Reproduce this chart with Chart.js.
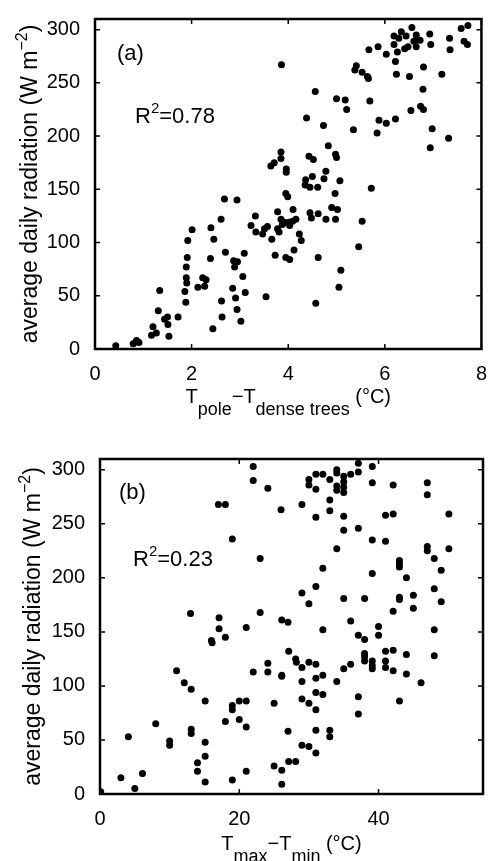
<!DOCTYPE html>
<html>
<head>
<meta charset="utf-8">
<script src="https://cdn.jsdelivr.net/npm/chart.js@4/dist/chart.umd.min.js"></script>
<style>
  html, body { margin: 0; padding: 0; background: #fff; }
  body { width: 492px; height: 861px; position: relative; overflow: hidden; }
  canvas { position: absolute; left: 0; }
</style>
</head>
<body>
<canvas id="chartA" width="492" height="430" style="top:0px"></canvas>
<canvas id="chartB" width="492" height="431" style="top:430px"></canvas>
<script>
// (a) T_pole - T_dense trees (°C) vs radiation
var gapA = [
  0.43, 0.79, 0.86, 0.91, 1.17, 1.20, 1.27, 1.31, 1.34, 1.44,
  1.50, 1.51, 1.53, 1.72, 1.86, 1.88, 1.89, 1.90, 1.89, 1.91,
  1.92, 2.01, 2.13, 2.23, 2.27, 2.30, 2.39, 2.40, 2.44, 2.46,
  2.61, 2.62, 2.63, 2.68, 2.70, 2.85, 2.87, 2.89, 2.91, 2.94,
  2.94, 2.95, 3.02, 3.06, 3.09, 3.11, 3.23, 3.32, 3.33, 3.47,
  3.51, 3.54, 3.57, 3.64, 3.66, 3.71, 3.73, 3.78, 3.78, 3.81,
  3.85, 3.85, 3.85, 3.86, 3.88, 3.92, 3.95, 3.95, 3.96, 3.96,
  3.99, 4.02, 4.03, 4.03, 4.09, 4.10, 4.12, 4.16, 4.23, 4.27,
  4.35, 4.36, 4.38, 4.43, 4.45, 4.45, 4.48, 4.50, 4.52, 4.56,
  4.57, 4.61, 4.62, 4.62, 4.73, 4.74, 4.78, 4.78, 4.83, 4.90,
  4.97, 4.98, 4.98, 5.00, 5.00, 5.02, 5.05, 5.07, 5.09, 5.18,
  5.21, 5.35, 5.38, 5.41, 5.46, 5.53, 5.53, 5.64, 5.66, 5.67,
  5.69, 5.72, 5.84, 5.86, 5.88, 6.03, 6.03, 6.19, 6.19, 6.22,
  6.22, 6.24, 6.26, 6.29, 6.34, 6.41, 6.44, 6.48, 6.51, 6.54,
  6.56, 6.60, 6.65, 6.65, 6.65, 6.73, 6.74, 6.79, 6.80, 6.80,
  6.93, 6.94, 6.95, 6.98, 7.18, 7.32, 7.34, 7.35, 7.58, 7.64,
  7.71, 7.72
]
var radA = [
  3, 5, 8, 6, 13, 21, 15, 36, 55, 28,
  30, 23, 12, 30, 54, 44, 67, 62, 77, 86,
  102, 112, 58, 67, 59, 65, 85, 114, 19, 103,
  122, 45, 30, 141, 91, 57, 83, 77, 48, 140,
  37, 82, 26, 68, 90, 53, 116, 125, 110, 108,
  113, 49, 115, 172, 103, 175, 88, 129, 113, 110,
  122, 185, 179, 267, 117, 119, 146, 86, 169, 166,
  143, 119, 116, 84, 120, 131, 93, 122, 108, 102,
  154, 159, 217, 181, 152, 128, 123, 162, 178, 242,
  43, 152, 127, 86, 210, 160, 167, 122, 191, 133,
  146, 183, 122, 180, 235, 131, 58, 158, 74, 234,
  225, 206, 262, 266, 96, 260, 120, 256, 254, 281,
  233, 151, 203, 284, 215, 212, 277, 294, 286, 216,
  270, 258, 279, 292, 298, 282, 294, 284, 256, 224,
  302, 289, 295, 290, 284, 290, 228, 244, 225, 265,
  296, 189, 286, 207, 258, 198, 292, 281, 301, 289,
  286, 304
]

// (b) T_max - T_min (°C) vs radiation
var rangeB = [
  0.1, 3.0, 4.07, 5.0, 6.1, 8.0, 10.0, 10.0, 11.0, 12.1,
  13.0, 13.1, 13.1, 13.1, 14.0, 14.0, 15.1, 15.1, 15.1, 15.1,
  16.0, 16.1, 17.0, 17.1, 17.1, 18.0, 18.0, 18.0, 19.0, 19.0,
  19.0, 19.0, 20.0, 20.0, 21.0, 21.0, 21.0, 21.0, 22.0, 22.0,
  22.0, 23.0, 23.0, 24.1, 24.1, 24.1, 25.0, 25.0, 26.0, 26.1,
  26.1, 26.1, 26.1, 26.1, 27.0, 27.1, 27.0, 27.1, 28.1, 28.2,
  28.1, 29.0, 29.0, 29.0, 29.0, 29.0, 29.0, 30.0, 30.0, 30.0,
  30.0, 30.0, 30.0, 31.0, 31.0, 31.0, 31.0, 31.0, 31.0, 31.0,
  31.0, 31.0, 31.0, 32.0, 32.0, 32.0, 32.0, 32.0, 33.0, 33.0,
  33.0, 33.0, 33.0, 34.0, 34.0, 34.0, 34.0, 34.0, 34.0, 35.0,
  35.0, 35.0, 35.0, 35.0, 35.0, 35.0, 35.0, 36.0, 36.0, 36.0,
  37.1, 37.1, 37.1, 37.1, 37.1, 37.1, 38.0, 38.0, 38.0, 38.0,
  38.0, 39.1, 39.1, 39.1, 39.1, 39.1, 39.1, 39.1, 40.0, 40.0,
  41.0, 41.0, 41.0, 41.0, 41.0, 42.1, 42.1, 42.1, 42.1, 42.1,
  43.0, 43.0, 43.0, 43.0, 43.0, 43.0, 44.0, 44.0, 44.0, 45.0,
  45.0, 46.1, 47.0, 47.0, 47.0, 47.0, 48.0, 48.0, 48.0, 48.0,
  49.0, 49.0, 50.1, 50.1
]
var radB = [
  2, 15, 53, 5, 19, 65, 49, 45, 114, 103,
  167, 97, 60, 56, 29, 21, 86, 48, 35, 11,
  142, 140, 268, 163, 153, 268, 145, 67, 236, 82,
  78, 13, 86, 69, 154, 86, 62, 21, 303, 290,
  113, 218, 168, 283, 121, 113, 84, 26, 263, 161,
  110, 109, 22, 9, 159, 132, 58, 30, 125, 122,
  30, 268, 186, 117, 104, 88, 45, 291, 286, 176,
  122, 84, 44, 296, 282, 256, 192, 120, 107, 94,
  78, 59, 38, 296, 209, 152, 110, 92, 291, 272,
  262, 59, 53, 300, 297, 285, 281, 227, 104, 294,
  289, 284, 279, 257, 244, 181, 116, 296, 160, 120,
  306, 298, 246, 147, 90, 74, 181, 143, 130, 127,
  123, 303, 288, 235, 204, 123, 119, 116, 155, 147,
  258, 234, 132, 123, 117, 286, 259, 169, 133, 114,
  216, 213, 210, 182, 180, 86, 200, 129, 111, 184,
  172, 103, 288, 277, 229, 225, 218, 190, 152, 128,
  207, 178, 259, 227
]

var radTicks = [0, 50, 100, 150, 200, 250, 300]
var yLabel = ['average daily radiation (W m', '\u22122', ')']

var FONT = "'Liberation Sans', Arial, Helvetica, sans-serif"
Chart.defaults.font.family = FONT
Chart.defaults.color = '#000'

// escreve pedaços de texto (subscrito / sobrescrito) lado a lado
function drawParts(ctx, parts, x, y) {
    let total = 0
    parts.forEach(p => {
        ctx.font = p.size + 'px ' + FONT
        p.w = ctx.measureText(p.t).width
        total += p.w
    })
    let cx = x - total / 2
    parts.forEach(p => {
        ctx.font = p.size + 'px ' + FONT
        ctx.fillText(p.t, cx, y + p.dy)
        cx += p.w
    })
}

// moldura com marcas para dentro (estilo MATLAB)
const framePlugin = {
    id: 'frame',
    afterDatasetsDraw(chart) {
        const ctx = chart.ctx
        const a = chart.chartArea
        const sx = chart.scales.x
        const sy = chart.scales.y
        ctx.save()
        ctx.strokeStyle = '#000'
        ctx.lineWidth = 1.5
        ctx.beginPath()
        sx.ticks.forEach(t => {
            const px = sx.getPixelForValue(t.value)
            ctx.moveTo(px, a.bottom); ctx.lineTo(px, a.bottom - 5)
            ctx.moveTo(px, a.top); ctx.lineTo(px, a.top + 5)
        })
        sy.ticks.forEach(t => {
            const py = sy.getPixelForValue(t.value)
            ctx.moveTo(a.left, py); ctx.lineTo(a.left + 5, py)
            ctx.moveTo(a.right, py); ctx.lineTo(a.right - 5, py)
        })
        ctx.stroke()
        ctx.lineWidth = 2.5
        ctx.strokeRect(a.left, a.top, a.right - a.left, a.bottom - a.top)
        ctx.restore()
    }
}

function textPlugin(opt) {
    return {
        id: 'texts',
        afterDraw(chart) {
            const ctx = chart.ctx
            const a = chart.chartArea
            ctx.save()
            ctx.fillStyle = '#000'
            ctx.textBaseline = 'alphabetic'
            ctx.textAlign = 'left'
            // painel
            ctx.font = '22px ' + FONT
            ctx.fillText(opt.panel, a.left + opt.panelDx, a.top + opt.panelY)
            // R²
            let x = a.left + opt.rDx
            const yb = a.top + opt.rY
            ctx.fillText('R', x, yb)
            x += ctx.measureText('R').width
            ctx.font = '15px ' + FONT
            ctx.fillText('2', x, yb - 10)
            x += ctx.measureText('2').width
            ctx.font = '22px ' + FONT
            ctx.fillText('=' + opt.r2, x, yb)
            // título eixo x
            drawParts(ctx, opt.xTitle, (a.left + a.right) / 2, opt.xTitleY)
            // título eixo y (girado)
            ctx.translate(opt.yTitleX, (a.top + a.bottom) / 2)
            ctx.rotate(-Math.PI / 2)
            drawParts(ctx, [
                {t: yLabel[0], size: 23, dy: 0},
                {t: yLabel[1], size: 16, dy: -10},
                {t: yLabel[2], size: 23, dy: 0}
            ], 0, 0)
            ctx.restore()
        }
    }
}

function scatterChart(id, xs, ys, opt) {
    const pts = xs.map((v, i) => ({x: v, y: ys[i]}))
    return new Chart(document.getElementById(id), {
        type: 'scatter',
        data: {
            datasets: [{
                data: pts,
                backgroundColor: '#000',
                borderColor: '#000',
                borderWidth: 0,
                pointRadius: 3.5,
                pointHoverRadius: 3.5
            }]
        },
        options: {
            responsive: false,
            animation: false,
            devicePixelRatio: 1,
            events: [],
            layout: {padding: {top: opt.top, right: 9, left: 0, bottom: 0}},
            plugins: {legend: {display: false}, tooltip: {enabled: false}},
            scales: {
                x: {
                    type: 'linear',
                    min: 0,
                    max: opt.xMax,
                    ticks: {stepSize: opt.xStep, includeBounds: false, maxRotation: 0, padding: 5, font: {size: 20}},
                    grid: {display: false},
                    border: {display: false},
                    afterFit: s => { s.height = opt.xh }
                },
                y: {
                    type: 'linear',
                    min: 0,
                    max: 310,
                    afterBuildTicks: s => { s.ticks = radTicks.map(v => ({value: v})) },
                    ticks: {padding: 7, font: {size: 20}},
                    grid: {display: false},
                    border: {display: false},
                    afterFit: s => { s.width = opt.left }
                }
            }
        },
        plugins: [framePlugin, textPlugin(opt)]
    })
}

scatterChart('chartA', gapA, radA, {
    top: 13, left: 95, xh: 81, xMax: 8, xStep: 2,
    panel: '(a)', panelDx: 22, panelY: 41,
    rDx: 40, rY: 104, r2: '0.78',
    xTitleY: 403, yTitleX: 37,
    xTitle: [
        {t: 'T', size: 20, dy: 0},
        {t: 'pole', size: 18, dy: 12},
        {t: '\u2212', size: 20, dy: 0},
        {t: 'T', size: 20, dy: 0},
        {t: 'dense trees', size: 18, dy: 12},
        {t: ' (\u00b0C)', size: 20, dy: 0}
    ]
})

scatterChart('chartB', rangeB, radB, {
    top: 29, left: 100, xh: 67, xMax: 55, xStep: 20,
    panel: '(b)', panelDx: 19, panelY: 40,
    rDx: 33, rY: 107, r2: '0.23',
    xTitleY: 420, yTitleX: 40,
    xTitle: [
        {t: 'T', size: 20, dy: 0},
        {t: 'max', size: 18, dy: 12},
        {t: '\u2212', size: 20, dy: 0},
        {t: 'T', size: 20, dy: 0},
        {t: 'min', size: 18, dy: 12},
        {t: ' (\u00b0C)', size: 20, dy: 0}
    ]
})
</script>
</body>
</html>
